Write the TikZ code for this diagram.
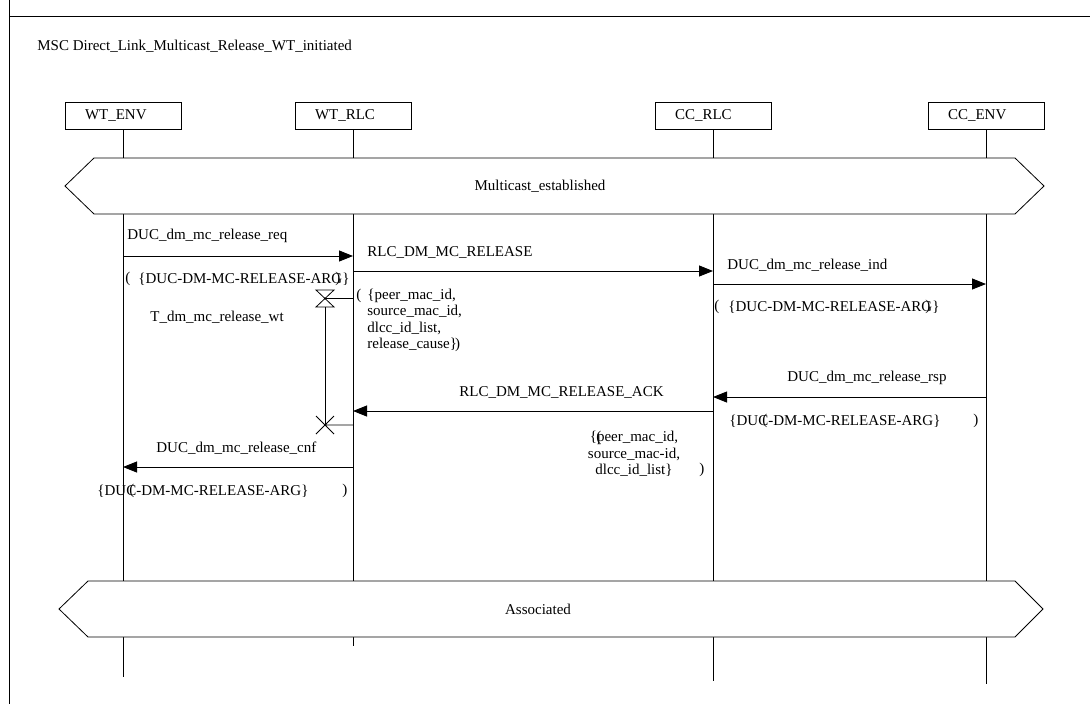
\documentclass[tikz,border=0pt]{standalone}
\usepackage{fontspec}
\setmainfont{Liberation Serif}
\usetikzlibrary{arrows.meta}

\begin{document}
\begin{tikzpicture}[x=1pt,y=-1pt,line width=0.8pt,
  every node/.style={font=\fontsize{15}{16.3}\selectfont,inner sep=0pt},
  inst/.style={draw,minimum height=27pt,text width=76pt,inner xsep=20pt,align=left},
  msg/.style={-{Triangle[length=14pt,width=11pt]}},
  cond/.style={fill=white}]
\useasboundingbox (0,0) rectangle (1090,704);
\draw (9,0)--(9,704) (9,16)--(1090,16);
\node[anchor=west] (title) at (37,46) {MSC Direct\_Link\_Multicast\_Release\_WT\_initiated};
% instances
\node[inst] (wtenv) at (123,115.5) {WT\_ENV};
\node[inst] (wtrlc) at (353,115.5) {WT\_RLC};
\node[inst] (ccrlc) at (713,115.5) {CC\_RLC};
\node[inst] (ccenv) at (986,115.5) {CC\_ENV};
\coordinate (wtenvend) at (123,677);
\coordinate (wtrlcend) at (353,646);
\coordinate (ccrlcend) at (713,681);
\coordinate (ccenvend) at (986,684);
\draw (wtenv)--(wtenvend) (wtrlc)--(wtrlcend) (ccrlc)--(ccrlcend) (ccenv)--(ccenvend);
% conditions
\draw[cond] (65,186)--(94,158)--(1015,158)--(1044,186)--(1015,214)--(94,214)--cycle;
\node (mcest) at (540,186) {Multicast\_established};
\draw[cond] (59,609)--(88,581)--(1015,581)--(1043,609)--(1015,637)--(88,637)--cycle;
\node (assoc) at (538,609) {Associated};
% messages
\draw[msg] (wtenv |- 0,256)--(wtrlc |- 0,256);
\node[anchor=west] (reqlbl) at (127,236) {DUC\_dm\_mc\_release\_req};
\node[anchor=west] (reqpo) at (125,279) {(};
\node[anchor=west] (reqpar) at (138,279) {\{DUC-DM-MC-RELEASE-ARG\}};
\node[anchor=west] (reqpc) at (335,279) {)};
\draw[msg] (wtrlc |- 0,271)--(ccrlc |- 0,271);
\node[anchor=west] (rellbl) at (367,252) {RLC\_DM\_MC\_RELEASE};
\node[anchor=west] (relpo) at (356,296) {(};
\node[anchor=west,align=left] (relpar) at (367,320.5) {\{peer\_mac\_id,\\source\_mac\_id,\\dlcc\_id\_list,\\release\_cause\}\kern-2pt)};
\draw[msg] (ccrlc |- 0,284)--(ccenv |- 0,284);
\node[anchor=west] (indlbl) at (727,265) {DUC\_dm\_mc\_release\_ind};
\node[anchor=west] (indpo) at (714,307) {(};
\node[anchor=west] (indpar) at (728,307) {\{DUC-DM-MC-RELEASE-ARG\}};
\node[anchor=west] (indpc) at (925,307) {)};
% timer
\draw (316,290)--(334,290)--(316,307)--(334,307)--cycle;
\draw (325,298)--(wtrlc |- 0,298) (325,307)--(325,425);
\draw (316,416)--(334,434) (316,434)--(334,416) (325,425)--(wtrlc |- 0,425);
\node[anchor=west] (tmlbl) at (150,317) {T\_dm\_mc\_release\_wt};
% responses
\draw[msg] (ccenv |- 0,397)--(ccrlc |- 0,397);
\node[anchor=west] (rsplbl) at (787,378) {DUC\_dm\_mc\_release\_rsp};
\node[anchor=west] (rsppar) at (729,421) {\{DUC-DM-MC-RELEASE-ARG\}};
\node[anchor=west] (rsppo) at (762,421) {(};
\node[anchor=west] (rsppc) at (973,421) {)};
\draw[msg] (ccrlc |- 0,411)--(wtrlc |- 0,411);
\node[anchor=west] (acklbl) at (459,392) {RLC\_DM\_MC\_RELEASE\_ACK};
\node[align=center] (ackpar) at (634,454) {\{peer\_mac\_id,\\source\_mac-id,\\dlcc\_id\_list\}};
\node[anchor=west] (ackpo) at (596,438) {(};
\node[anchor=west] (ackpc) at (699,470) {)};
\draw[msg] (wtrlc |- 0,467)--(wtenv |- 0,467);
\node[anchor=west] (cnflbl) at (156,448) {DUC\_dm\_mc\_release\_cnf};
\node[anchor=west] (cnfpar) at (97,491) {\{DUC-DM-MC-RELEASE-ARG\}};
\node[anchor=west] (cnfpo) at (129,491) {(};
\node[anchor=west] (cnfpc) at (342,491) {)};
\end{tikzpicture}
\end{document}
